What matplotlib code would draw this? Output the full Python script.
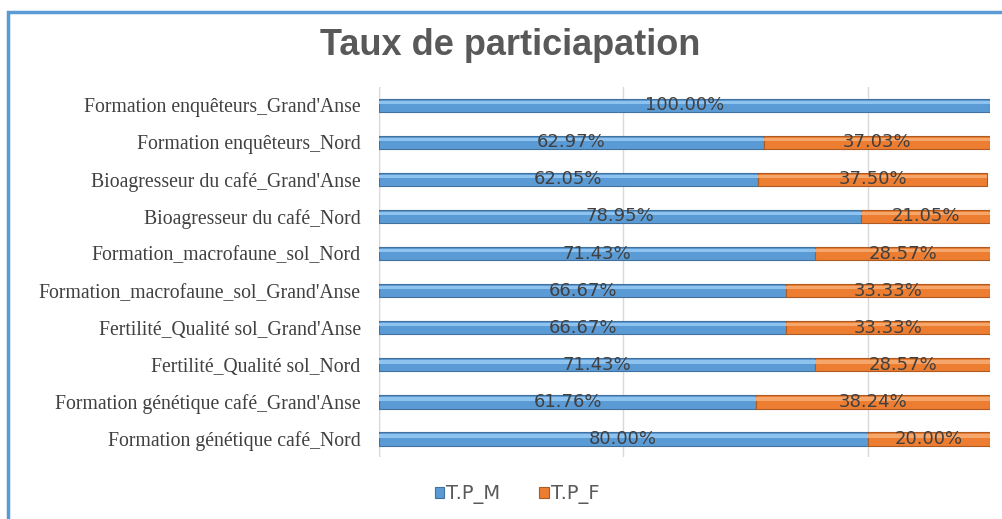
import numpy as np
import matplotlib
from matplotlib import pyplot as plt
from matplotlib.patches import Rectangle


def participationData():
    categories = ['Formation génétique café_Nord',
                  "Formation génétique café_Grand'Anse",
                  'Fertilité_Qualité sol_Nord',
                  "Fertilité_Qualité sol_Grand'Anse",
                  "Formation_macrofaune_sol_Grand'Anse",
                  'Formation_macrofaune_sol_Nord',
                  'Bioagresseur du café_Nord',
                  "Bioagresseur du café_Grand'Anse",
                  'Formation enquêteurs_Nord',
                  "Formation enquêteurs_Grand'Anse"]
    tpm = [0.80, 0.6176, 0.7143, 0.6667, 0.6667, 0.7143, 0.7895, 0.6205, 0.6297, 1.00]
    tpf = [0.20, 0.3824, 0.2857, 0.3333, 0.3333, 0.2857, 0.2105, 0.3750, 0.3703, 0.00]
    return categories, tpm, tpf


def stackedBars(categories, tpm, tpf):
    """ this function draws the stacked horizontal bars of the rates"""
    fig = plt.figure(figsize=(10.02, 5.19), dpi=100)
    fig.patches.append(Rectangle((0.008, -0.05), 1.1, 1.027, transform=fig.transFigure,
                                 fill=False, edgecolor='#5B9BD5', linewidth=2.5))
    ax = fig.add_axes([0.378, 0.1185, 0.61, 0.7145])

    yAxis = np.arange(len(categories))
    height = 0.36
    plt.barh(yAxis, tpm, height=height, color='#5B9BD5', edgecolor='#41719C', linewidth=0.8, label='T.P_M', zorder=3)
    plt.barh(yAxis, tpf, height=height, left=tpm, color='#ED7D31', edgecolor='#AE5A21', linewidth=0.8, label='T.P_F', zorder=3)
    # light strip on top of the bars
    plt.barh(yAxis + height * 0.22, tpm, height=height * 0.25, color='#8EC3F0', linewidth=0, zorder=4)
    plt.barh(yAxis + height * 0.22, tpf, height=height * 0.25, left=tpm, color='#F5A76B', linewidth=0, zorder=4)

    for y, m, f in zip(yAxis, tpm, tpf):
        plt.text(m / 2, y, f'{m * 100:.2f}%', ha='center', va='center', fontsize=13, color='#404040', zorder=5)
        if f > 0:
            plt.text(m + f / 2, y, f'{f * 100:.2f}%', ha='center', va='center', fontsize=13, color='#404040', zorder=5)

    plt.yticks(yAxis, categories, fontsize=14.2, color='#404040', family='Liberation Serif')
    plt.xticks([0, 0.4, 0.8], [])
    plt.xlim(0, 1.0)
    plt.ylim(-0.5, len(categories) - 0.5)
    plt.grid(axis='x', color='#D9D9D9', linewidth=1, zorder=0)
    plt.tick_params(axis='both', length=0, pad=13)
    for side in ['top', 'right', 'bottom', 'left']:
        ax.spines[side].set_visible(False)
    ax.axvline(0, color='#D9D9D9', linewidth=1, zorder=1)

    fig.text(0.509, 0.912, 'Taux de particiapation', ha='center', va='center',
             fontsize=26, fontweight='bold', color='#595959', family='Liberation Sans')
    plt.legend(loc='center', bbox_to_anchor=(0.516, 0.048), bbox_transform=fig.transFigure,
               ncol=2, frameon=False, fontsize=14, handlelength=0.5, handleheight=0.5,
               handletextpad=0.1, columnspacing=2.0, labelcolor='#595959')

    plt.savefig('out.png')


if __name__ == '__main__':
    categories, tpm, tpf = participationData()
    stackedBars(categories, tpm, tpf)
